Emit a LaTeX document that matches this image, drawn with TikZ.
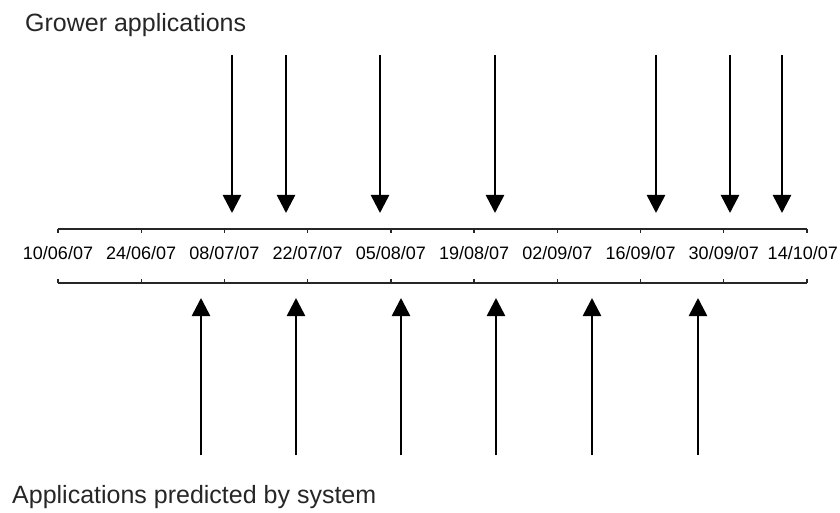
\documentclass[tikz,border=0pt]{standalone}
\usepackage{fontspec}
\setmainfont{Liberation Sans}
\usetikzlibrary{arrows.meta}
\begin{document}
\begin{tikzpicture}[x=1pt, y=-1pt,
  axisline/.style={line width=1.3pt, black!85},
  datelabel/.style={font=\fontsize{18}{18}\selectfont, inner sep=0pt},
  caption/.style={font=\fontsize{25}{25}\selectfont, inner sep=0pt, anchor=base west, text=black!85},
  apparrow/.style={line width=2.6pt, -{Triangle[width=18pt, length=18pt]}}]
  \useasboundingbox (0,0) rectangle (840,513);

  % captions
  \node[caption] (grower) at (25,32) {Grower applications};
  \node[caption] (predicted) at (12,503) {Applications predicted by system};

  % date axis: upper and lower rule with ticks, labels in between
  \coordinate (topL) at (58,229);
  \coordinate (topR) at (807,229);
  \coordinate (botL) at (58,283);
  \coordinate (botR) at (807,283);
  \draw[axisline] (topL) -- (topR);
  \draw[axisline] (botL) -- (botR);
  \foreach \d [count=\i from 0] in {10/06/07,24/06/07,08/07/07,22/07/07,05/08/07,19/08/07,02/09/07,16/09/07,30/09/07,14/10/07} {
    \pgfmathsetmacro{\xx}{58+83.22*\i}
    \coordinate (tt\i) at (\xx,229);
    \coordinate (bt\i) at (\xx,283);
    \draw[axisline] (tt\i) -- ++(0,4);
    \draw[axisline] (bt\i) -- ++(0,-4);
  }
  \foreach \d [count=\i from 0] in {10/06/07,24/06/07,08/07/07,22/07/07,05/08/07,19/08/07,02/09/07,16/09/07,30/09/07} {
    \pgfmathsetmacro{\xx}{58+83.22*\i}
    \node[datelabel] (d\i) at (\xx,253) {\d};
  }
  % the last label is kept just inside the right edge
  \node[datelabel, anchor=east] (d9) at (838,253) {14/10/07};

  % grower applications (from above)
  \foreach \x [count=\i] in {232,286,380,495,656,730,782} {
    \coordinate (gs\i) at (\x,55);
    \coordinate (ge\i) at (\x,213);
    \draw[apparrow] (gs\i) -- (ge\i);
  }

  % applications predicted by the system (from below)
  \foreach \x [count=\i] in {201,296,401,496,592,698} {
    \coordinate (ps\i) at (\x,455);
    \coordinate (pe\i) at (\x,298);
    \draw[apparrow] (ps\i) -- (pe\i);
  }
\end{tikzpicture}
\end{document}
